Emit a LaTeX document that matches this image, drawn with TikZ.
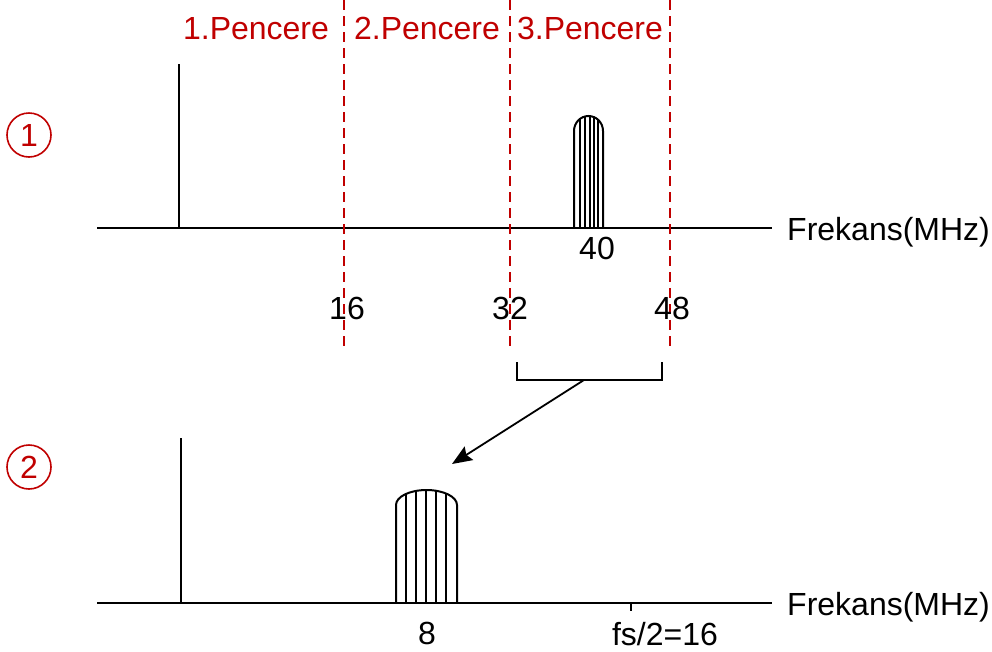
\documentclass[tikz,border=0pt]{standalone}
\usepackage{fontspec}
\setmainfont{Liberation Sans}
\usetikzlibrary{arrows.meta}
\definecolor{winred}{RGB}{192,0,0}
\begin{document}
\begin{tikzpicture}[x=1pt,y=-1pt,
  lbl/.style={font=\fontsize{32}{37}\selectfont, inner sep=0pt},
  redlbl/.style={lbl, text=winred},
  axisline/.style={line width=2pt, black},
  winline/.style={winred, line width=1.5pt, dash pattern=on 10pt off 6pt},
  hatchline/.style={line width=1.5pt},
  bumpline/.style={line width=2pt},
  circnum/.style={circle, draw=winred, line width=1.6pt, minimum size=44pt, inner sep=0pt}]
\useasboundingbox (0,0) rectangle (992,651);

% ---------- top spectrum ----------
\coordinate (a1s) at (97,228);
\coordinate (a1e) at (772,228);
\draw[axisline] (a1s) -- (a1e);
\node[lbl, anchor=base west] (f1) at (787,240) {Frekans(MHz)};
\coordinate (v1b) at (179,228);
\coordinate (v1t) at (179,64);
\draw[axisline] (v1b) -- (v1t);

% windows
\coordinate (w1t) at (344,0); \coordinate (w1b) at (344,352);
\coordinate (w2t) at (510,0); \coordinate (w2b) at (510,352);
\coordinate (w3t) at (670,0); \coordinate (w3b) at (670,352);
\draw[winline] (w1t) -- (w1b);
\draw[winline] (w2t) -- (w2b);
\draw[winline] (w3t) -- (w3b);
\node[redlbl, anchor=base] (p1) at (256,39) {1.Pencere};
\node[redlbl, anchor=base] (p2) at (427,39) {2.Pencere};
\node[redlbl, anchor=base] (p3) at (590,39) {3.Pencere};

% top bump
\begin{scope}
  \clip (574,228) -- (574,131) arc[start angle=180, end angle=360, x radius=14.5, y radius=15] -- (603,228) -- cycle;
  \foreach \x in {580,585,590,594,598} \draw[hatchline] (\x,100) -- (\x,228);
\end{scope}
\draw[bumpline] (574,228) -- (574,131) arc[start angle=180, end angle=360, x radius=14.5, y radius=15] -- (603,228);

\node[lbl, anchor=base] (n40) at (597,259) {40};
\node[lbl, anchor=base] (n16) at (347,319) {16};
\node[lbl, anchor=base] (n32) at (510,319) {32};
\node[lbl, anchor=base] (n48) at (672,319) {48};

% bracket and arrow
\coordinate (bl) at (517,362);
\coordinate (br) at (662,362);
\coordinate (bm) at (584,380);
\coordinate (tgt) at (452,464);
\draw[line width=1.8pt] (bl) -- (517,380) -- (662,380) -- (br);
\draw[line width=1.8pt, -{Stealth[length=20pt, width=16pt, inset=3pt]}] (bm) -- (tgt);

% circled numbers
\node[circnum] (c1) at (29,135) {};
\node[redlbl, anchor=base] (c1t) at (29,146) {1};
\node[circnum] (c2) at (29,467) {};
\node[redlbl, anchor=base] (c2t) at (29,478) {2};

% ---------- bottom spectrum ----------
\coordinate (a2s) at (97,603);
\coordinate (a2e) at (772,603);
\draw[axisline] (a2s) -- (a2e);
\node[lbl, anchor=base west] (f2) at (787,615) {Frekans(MHz)};
\coordinate (v2b) at (181,603);
\coordinate (v2t) at (181,438);
\draw[axisline] (v2b) -- (v2t);

% bottom bump
\begin{scope}
  \clip (396,603) -- (396,505) arc[start angle=180, end angle=360, x radius=30.5, y radius=15] -- (457,603) -- cycle;
  \foreach \x in {406,416,426,436,446} \draw[hatchline] (\x,480) -- (\x,603);
\end{scope}
\draw[bumpline] (396,603) -- (396,505) arc[start angle=180, end angle=360, x radius=30.5, y radius=15] -- (457,603);

\coordinate (tk1) at (631,603);
\coordinate (tk2) at (631,611);
\draw[line width=1.2pt] (tk1) -- (tk2);
\node[lbl, anchor=base] (n8) at (427,644) {8};
\node[lbl, anchor=base] (nfs) at (665,645) {fs/2=16};
\end{tikzpicture}
\end{document}
